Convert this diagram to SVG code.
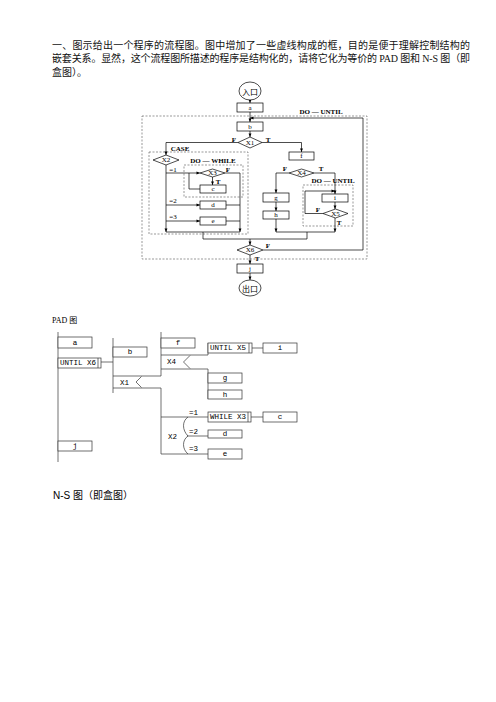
<svg xmlns="http://www.w3.org/2000/svg" width="496" height="702" viewBox="0 0 496 702">
<defs>
<marker id="ah" viewBox="0 0 6 6" refX="6" refY="3" markerWidth="4" markerHeight="3.5" orient="auto" markerUnits="userSpaceOnUse"><path d="M0,0.5 L6,3 L0,5.5 z" fill="#000"/></marker>
</defs>
<style>
.body{font-family:"Liberation Serif","Noto Sans CJK SC",serif;font-size:10px;fill:#111}
.ln{fill:none;stroke:#000;stroke-width:0.7}
.ar{marker-end:url(#ah)}
.box{fill:#fff;stroke:#000;stroke-width:0.7}
.dash{fill:none;stroke:#555;stroke-width:0.6;stroke-dasharray:2 1.5}
.t{font-family:"Liberation Serif",serif;font-size:7px;fill:#000;text-anchor:middle;dominant-baseline:central}
.lb{font-family:"Liberation Serif",serif;font-size:7px;font-weight:bold;fill:#000;text-anchor:middle;dominant-baseline:central}
.cj{font-family:"Noto Sans CJK SC",sans-serif;font-size:8px;fill:#000;text-anchor:middle;dominant-baseline:central}
.pb{fill:#fff;stroke:#333;stroke-width:0.7}
.pl{fill:none;stroke:#333;stroke-width:0.7}
.pt{font-family:"Liberation Mono",monospace;font-size:7.5px;fill:#000;text-anchor:middle;dominant-baseline:central}
.ptl{font-family:"Liberation Mono",monospace;font-size:7.5px;fill:#000;dominant-baseline:central}
</style>
<rect width="496" height="702" fill="#fff"/>

<g id="intro">
<text class="body" x="52" y="49" textLength="418" lengthAdjust="spacing">一、图示给出一个程序的流程图。图中增加了一些虚线构成的框，目的是便于理解控制结构的</text>
<text class="body" x="52" y="62" textLength="418" lengthAdjust="spacing">嵌套关系。显然，这个流程图所描述的程序是结构化的，请将它化为等价的 PAD 图和 N-S 图（即</text>
<text class="body" x="52" y="75.5">盒图）。</text>
</g>

<g id="frames">
<rect class="dash" x="142" y="116" width="225" height="143"/>
<text class="lb" x="321" y="112">DO — UNTIL</text>
<rect class="dash" x="149" y="152" width="99" height="82"/>
<text class="lb" x="180" y="148.5">CASE</text>
<rect class="dash" x="184" y="165" width="59" height="32"/>
<text class="lb" x="213" y="161">DO — WHILE</text>
<rect class="dash" x="303" y="185" width="50" height="41"/>
<text class="lb" x="333" y="181">DO — UNTIL</text>
</g>

<g id="connectors">
<path class="ln ar" d="M250,100 V103"/>
<path class="ln ar" d="M250,112 V122"/>
<path class="ln ar" d="M250,131 V137"/>
<path class="ln ar" d="M263,250 H363 V118 H250"/>
<path class="ln ar" d="M238,142.5 H166 V155"/>
<path class="ln ar" d="M262,142.5 H301.5 V152"/>
<path class="ln ar" d="M166,165 V232"/>
<path class="ln ar" d="M166,173 H200"/>
<path class="ln" d="M200,189 H189 V173"/>
<path class="ln ar" d="M212.5,177 V185"/>
<path class="ln ar" d="M225,173 H240 V232"/>
<path class="ln ar" d="M166,205 H200"/>
<path class="ln" d="M226,205 H240"/>
<path class="ln ar" d="M166,221 H200"/>
<path class="ln" d="M226,221 H240"/>
<path class="ln" d="M166,232 H240 M203,232 V239 H307 V232 M276,232 H335"/>
<path class="ln ar" d="M250,239 V245"/>
<path class="ln ar" d="M289,173 H276 V193"/>
<path class="ln ar" d="M276,202 V211"/>
<path class="ln ar" d="M276,219 V232"/>
<path class="ln ar" d="M314,173 H335 V194"/>
<path class="ln ar" d="M335,202 V209"/>
<path class="ln ar" d="M323,213.5 H305 V191 H335"/>
<path class="ln ar" d="M335,218 V232"/>
<path class="ln ar" d="M250,255 V264"/>
<path class="ln ar" d="M250,273 V280"/>
<text class="lb" x="234" y="139.5">F</text>
<text class="lb" x="268" y="139.5">T</text>
<text class="t" x="173" y="170">=1</text>
<text class="t" x="173" y="201">=2</text>
<text class="t" x="173" y="217">=3</text>
<text class="lb" x="228" y="169.5">F</text>
<text class="lb" x="218" y="182">T</text>
<text class="lb" x="285" y="168.5">F</text>
<text class="lb" x="321" y="169">T</text>
<text class="lb" x="318" y="210">F</text>
<text class="lb" x="339" y="223">T</text>
<text class="lb" x="268" y="245.5">F</text>
<text class="lb" x="257" y="259">T</text>
</g>

<g id="entry"><ellipse class="box" cx="250" cy="91" rx="11" ry="9"/><text class="cj" x="250" y="91">入口</text></g>
<g id="node-a"><rect class="box" x="237" y="103" width="26" height="9"/><text class="t" x="250" y="107.5">a</text></g>
<g id="node-b"><rect class="box" x="237" y="122" width="26" height="9"/><text class="t" x="250" y="126.5">b</text></g>
<g id="node-x1"><polygon class="box" points="238,142.5 250,137 262,142.5 250,148"/><text class="t" x="250" y="142.5">X1</text></g>
<g id="node-x2"><polygon class="box" points="153,160 166,155 179,160 166,165"/><text class="t" x="166" y="160">X2</text></g>
<g id="node-x3"><polygon class="box" points="200,173 212.5,169 225,173 212.5,177"/><text class="t" x="212.5" y="173">X3</text></g>
<g id="node-c"><rect class="box" x="200" y="185" width="26" height="8"/><text class="t" x="213" y="189">c</text></g>
<g id="node-d"><rect class="box" x="200" y="201" width="26" height="8"/><text class="t" x="213" y="205">d</text></g>
<g id="node-e"><rect class="box" x="200" y="217" width="26" height="8"/><text class="t" x="213" y="221">e</text></g>
<g id="node-f"><rect class="box" x="289" y="152" width="25" height="8"/><text class="t" x="301.5" y="156">f</text></g>
<g id="node-x4"><polygon class="box" points="289,173 301.5,169 314,173 301.5,177"/><text class="t" x="301.5" y="173">X4</text></g>
<g id="node-g"><rect class="box" x="263" y="193" width="26" height="9"/><text class="t" x="276" y="197.5">g</text></g>
<g id="node-h"><rect class="box" x="263" y="211" width="26" height="8"/><text class="t" x="276" y="215">h</text></g>
<g id="node-i"><rect class="box" x="322" y="194" width="26" height="8"/><text class="t" x="335" y="198">i</text></g>
<g id="node-x5"><polygon class="box" points="323,213.5 335.5,209 348,213.5 335.5,218"/><text class="t" x="335.5" y="213.5">X5</text></g>
<g id="node-x6"><polygon class="box" points="237,250 250,245 263,250 250,255"/><text class="t" x="250" y="250">X6</text></g>
<g id="node-j"><rect class="box" x="237" y="264" width="26" height="9"/><text class="t" x="250" y="268.5">j</text></g>
<g id="exit"><ellipse class="box" cx="250" cy="288" rx="11" ry="8"/><text class="cj" x="250" y="288">出口</text></g>

<g id="pad-title"><text x="52" y="323" style="font-family:'Liberation Serif','Noto Sans CJK SC',serif;font-size:8px">PAD 图</text></g>

<g id="pad-lines">
<path class="pl" d="M58,332 V462"/>
<path class="pl" d="M101,362 H113 M113,338 V393"/>
<path class="pl" d="M161,332 V376 M161,388 V454"/>
<path class="pl" d="M208,343 V355 M208,369 V399"/>
<path class="pl" d="M252,348 H263 M251,417 H263"/>
</g>

<g id="pad-a"><rect class="pb" x="58" y="337" width="34" height="11"/><text class="pt" x="75" y="342.5">a</text></g>
<g id="pad-until-x6"><rect class="pb" x="58" y="358" width="43" height="10"/><path class="pl" d="M98,358 V368"/><text class="ptl" x="60" y="363">UNTIL X6</text></g>
<g id="pad-j"><rect class="pb" x="58" y="441" width="34" height="10"/><text class="pt" x="75" y="446">j</text></g>
<g id="pad-b"><rect class="pb" x="113" y="347" width="34" height="10"/><text class="pt" x="130" y="352">b</text></g>
<g id="pad-x1"><path class="pl" d="M113,376 H161 M113,388 H161 M141.5,376.5 L136,382 L141.5,387.5"/><text class="ptl" x="120" y="382.5">X1</text></g>
<g id="pad-f"><rect class="pb" x="161" y="338" width="34" height="10"/><text class="pt" x="178" y="343">f</text></g>
<g id="pad-x4"><path class="pl" d="M161,355 H208 M161,369 H208 M190,355.5 L183.5,362 L190,368.5"/><text class="ptl" x="167" y="362">X4</text></g>
<g id="pad-until-x5"><rect class="pb" x="208" y="343" width="44" height="10"/><path class="pl" d="M249,343 V353"/><text class="ptl" x="210" y="348">UNTIL X5</text></g>
<g id="pad-i"><rect class="pb" x="263" y="343" width="34" height="10"/><text class="pt" x="280" y="348">i</text></g>
<g id="pad-g"><rect class="pb" x="208" y="373" width="34" height="10"/><text class="pt" x="225" y="378">g</text></g>
<g id="pad-h"><rect class="pb" x="208" y="390" width="34" height="9"/><text class="pt" x="225" y="394.5">h</text></g>
<g id="pad-x2"><path class="pl" d="M161,417 H208 M161,454 H208 M187,436 H208 M188,417 C182,421 182,430 188,436 C182,440 182,449 188,454"/><text class="ptl" x="168" y="437">X2</text><text class="ptl" x="189" y="413">=1</text><text class="ptl" x="189" y="432">=2</text><text class="ptl" x="189" y="449">=3</text></g>
<g id="pad-while-x3"><rect class="pb" x="208" y="412" width="43" height="10"/><path class="pl" d="M248,412 V422"/><text class="ptl" x="210" y="417">WHILE X3</text></g>
<g id="pad-c"><rect class="pb" x="263" y="412" width="34" height="10"/><text class="pt" x="280" y="417">c</text></g>
<g id="pad-d"><rect class="pb" x="208" y="430" width="34" height="8"/><text class="pt" x="225" y="434">d</text></g>
<g id="pad-e"><rect class="pb" x="208" y="449" width="34" height="10"/><text class="pt" x="225" y="454">e</text></g>

<g id="ns-title"><text x="53" y="499" style="font-family:'Liberation Sans','Noto Sans CJK SC',sans-serif;font-size:10px">N-S 图（即盒图）</text></g>
</svg>
